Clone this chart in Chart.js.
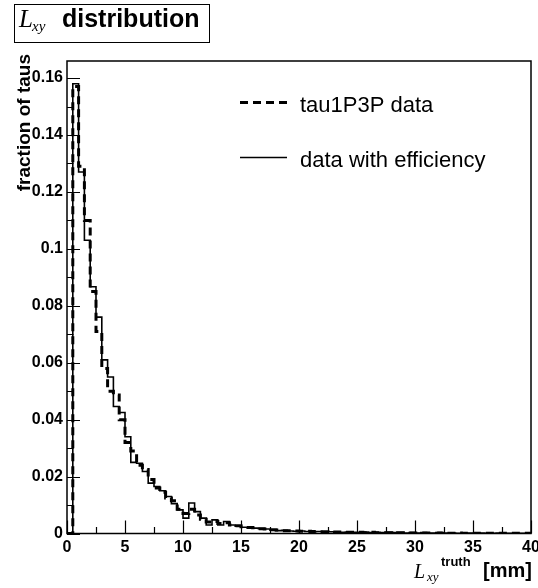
<!DOCTYPE html>
<html>
<head>
<meta charset="utf-8">
<script src="https://cdn.jsdelivr.net/npm/chart.js"></script>
<style>
  body { margin: 0; background: #fff; }
  canvas { display: block; }
</style>
</head>
<body>
<canvas id="lxyChart" width="538" height="588"></canvas>
<script>
// histogram binning: 80 bins of 0.5 mm from 0 to 40
const binLow = 0;
const binWidth = 0.5;

// tau1P3P data (dashed)
const tauData = [
  0, 0.157, 0.129, 0.110, 0.085, 0.071, 0.058, 0.050, 0.0487, 0.040,
  0.032, 0.029, 0.024, 0.0225, 0.019, 0.016, 0.0145, 0.0125, 0.0115, 0.0085,
  0.007, 0.0085, 0.0065, 0.005, 0.004, 0.0042, 0.0035, 0.0038, 0.003, 0.0027,
  0.0024, 0.0021, 0.002, 0.0017, 0.0016, 0.0013, 0.0012, 0.001, 0.001, 0.0009,
  0.0008, 0.0008, 0.0007, 0.0006, 0.0006, 0.0005, 0.0005, 0.0005, 0.0004, 0.0004,
  0.0004, 0.0003, 0.0004, 0.0003, 0.0003, 0.0003, 0.0002, 0.0003, 0.0002, 0.0002,
  0.0002, 0.0002, 0.0002, 0.0001, 0.0002, 0.0001, 0.0001, 0.0002, 0.0001, 0.0001,
  0.0001, 0.0001, 0.0001, 0.0001, 0.0001, 0.0001, 0.0001, 0.0001, 0.0001, 0.0001
];

// data with efficiency (solid)
const effData = [
  0, 0.158, 0.127, 0.103, 0.0867, 0.076, 0.061, 0.055, 0.0446, 0.0425,
  0.034, 0.025, 0.0247, 0.0218, 0.0177, 0.0165, 0.015, 0.013, 0.0105, 0.0083,
  0.0054, 0.0107, 0.0077, 0.0054, 0.003, 0.0048, 0.003, 0.0042, 0.003, 0.0026,
  0.0022, 0.002, 0.0019, 0.0017, 0.0016, 0.0012, 0.001, 0.0011, 0.0009, 0.0008,
  0.0009, 0.0007, 0.0006, 0.0007, 0.0005, 0.0006, 0.0005, 0.0004, 0.0005, 0.0004,
  0.0004, 0.0005, 0.0003, 0.0004, 0.0003, 0.0004, 0.0003, 0.0003, 0.0002, 0.0003,
  0.0002, 0.0003, 0.0002, 0.0002, 0.0003, 0.0002, 0.0002, 0.0001, 0.0002, 0.0002,
  0.0001, 0.0002, 0.0001, 0.0001, 0.0002, 0.0001, 0.0001, 0.0001, 0.0001, 0.0001
];

const xTickValues = [0, 5, 10, 15, 20, 25, 30, 35, 40];
const yTickValues = [0, 0.02, 0.04, 0.06, 0.08, 0.1, 0.12, 0.14, 0.16];
const legendLabels = ["tau1P3P data", "data with efficiency"];

// step points: one at each bin's low edge, plus closing point at the last upper edge
function toSteps(values) {
  const pts = values.map((v, i) => ({ x: binLow + i * binWidth, y: v }));
  pts.push({ x: binLow + values.length * binWidth, y: values[values.length - 1] });
  return pts;
}

const SANS = "'Liberation Sans', Arial, sans-serif";
const SERIF = "'Liberation Serif', 'Times New Roman', serif";

// ROOT style frame, inward ticks, titles and legend
const rootDecor = {
  id: "rootDecor",
  afterDatasetsDraw(chart) {
    const ctx = chart.ctx;
    const a = chart.chartArea;
    const xs = chart.scales.x;
    const ys = chart.scales.y;
    ctx.save();
    ctx.strokeStyle = "#000";
    ctx.fillStyle = "#000";

    // frame
    ctx.lineWidth = 1.5;
    ctx.strokeRect(a.left, a.top, a.right - a.left, a.bottom - a.top);

    // x ticks
    ctx.lineWidth = 1.2;
    ctx.beginPath();
    for (let v = 0; v <= 40 + 1e-9; v += 2.5) {
      const px = Math.round(xs.getPixelForValue(v)) + 0.5;
      const len = (v % 5 === 0) ? 13 : 6.5;
      ctx.moveTo(px, a.bottom);
      ctx.lineTo(px, a.bottom - len);
    }
    // y ticks
    for (let k = 0; k <= 16; k++) {
      const py = Math.round(ys.getPixelForValue(k * 0.01)) + 0.5;
      const len = (k % 2 === 0) ? 13 : 6.5;
      ctx.moveTo(a.left, py);
      ctx.lineTo(a.left + len, py);
    }
    ctx.stroke();

    // title box
    ctx.lineWidth = 1;
    ctx.strokeRect(14.5, 4.5, 195, 38);
    ctx.textAlign = "left";
    ctx.textBaseline = "alphabetic";
    ctx.font = "italic 25px " + SERIF;
    ctx.fillText("L", 19, 27);
    ctx.font = "italic 15px " + SERIF;
    ctx.fillText("xy", 32, 31);
    ctx.font = "bold 25px " + SANS;
    ctx.fillText("distribution", 62, 27);

    // y axis title
    ctx.save();
    ctx.translate(30, 54);
    ctx.rotate(-Math.PI / 2);
    ctx.textAlign = "right";
    ctx.font = "bold 19px " + SANS;
    ctx.fillText("fraction of taus", 0, 0);
    ctx.restore();

    // x axis title
    ctx.font = "italic 20px " + SERIF;
    ctx.fillText("L", 414, 578);
    ctx.font = "italic 13px " + SERIF;
    ctx.fillText("xy", 427, 581);
    ctx.font = "bold 13px " + SANS;
    ctx.fillText("truth", 441, 566);
    ctx.textAlign = "right";
    ctx.font = "bold 20px " + SANS;
    ctx.fillText("[mm]", 532, 577);

    // legend
    ctx.textAlign = "left";
    ctx.lineWidth = 3;
    ctx.setLineDash([8, 5]);
    ctx.beginPath();
    ctx.moveTo(240, 102.5);
    ctx.lineTo(289, 102.5);
    ctx.stroke();
    ctx.setLineDash([]);
    ctx.lineWidth = 1.5;
    ctx.beginPath();
    ctx.moveTo(240, 157.5);
    ctx.lineTo(287, 157.5);
    ctx.stroke();
    ctx.font = "22px " + SANS;
    ctx.fillText(legendLabels[0], 300, 111.5);
    ctx.fillText(legendLabels[1], 300, 166.5);
    ctx.restore();
  }
};

new Chart(document.getElementById("lxyChart"), {
  type: "line",
  data: {
    datasets: [
      {
        label: legendLabels[0],
        data: toSteps(tauData),
        stepped: true,
        borderColor: "#000",
        borderWidth: 3,
        borderDash: [8, 5],
        pointRadius: 0,
        fill: false
      },
      {
        label: legendLabels[1],
        data: toSteps(effData),
        stepped: true,
        borderColor: "#000",
        borderWidth: 1.6,
        pointRadius: 0,
        fill: false
      }
    ]
  },
  options: {
    responsive: false,
    animation: false,
    events: [],
    layout: { padding: { left: 0, top: 61, right: 7, bottom: 0 } },
    plugins: {
      legend: { display: false },
      title: { display: false },
      tooltip: { enabled: false }
    },
    scales: {
      x: {
        type: "linear",
        min: 0,
        max: 40,
        afterBuildTicks: s => { s.ticks = xTickValues.map(v => ({ value: v })); },
        afterFit: s => { s.height = 54.5; s.paddingLeft = 0; s.paddingRight = 0; },
        grid: { display: false, drawTicks: false },
        border: { display: false },
        ticks: {
          color: "#000",
          padding: 4,
          maxRotation: 0,
          autoSkip: false,
          font: { family: SANS, size: 16, weight: "bold" },
          callback: v => String(v)
        }
      },
      y: {
        type: "linear",
        min: 0,
        max: 0.166,
        afterBuildTicks: s => { s.ticks = yTickValues.map(v => ({ value: v })); },
        afterFit: s => { s.width = 67; s.paddingTop = 0; s.paddingBottom = 0; },
        grid: { display: false, drawTicks: false },
        border: { display: false },
        ticks: {
          color: "#000",
          padding: 4,
          autoSkip: false,
          font: { family: SANS, size: 16, weight: "bold" },
          callback: v => String(parseFloat(v.toFixed(2)))
        }
      }
    }
  },
  plugins: [rootDecor]
});
</script>
</body>
</html>
